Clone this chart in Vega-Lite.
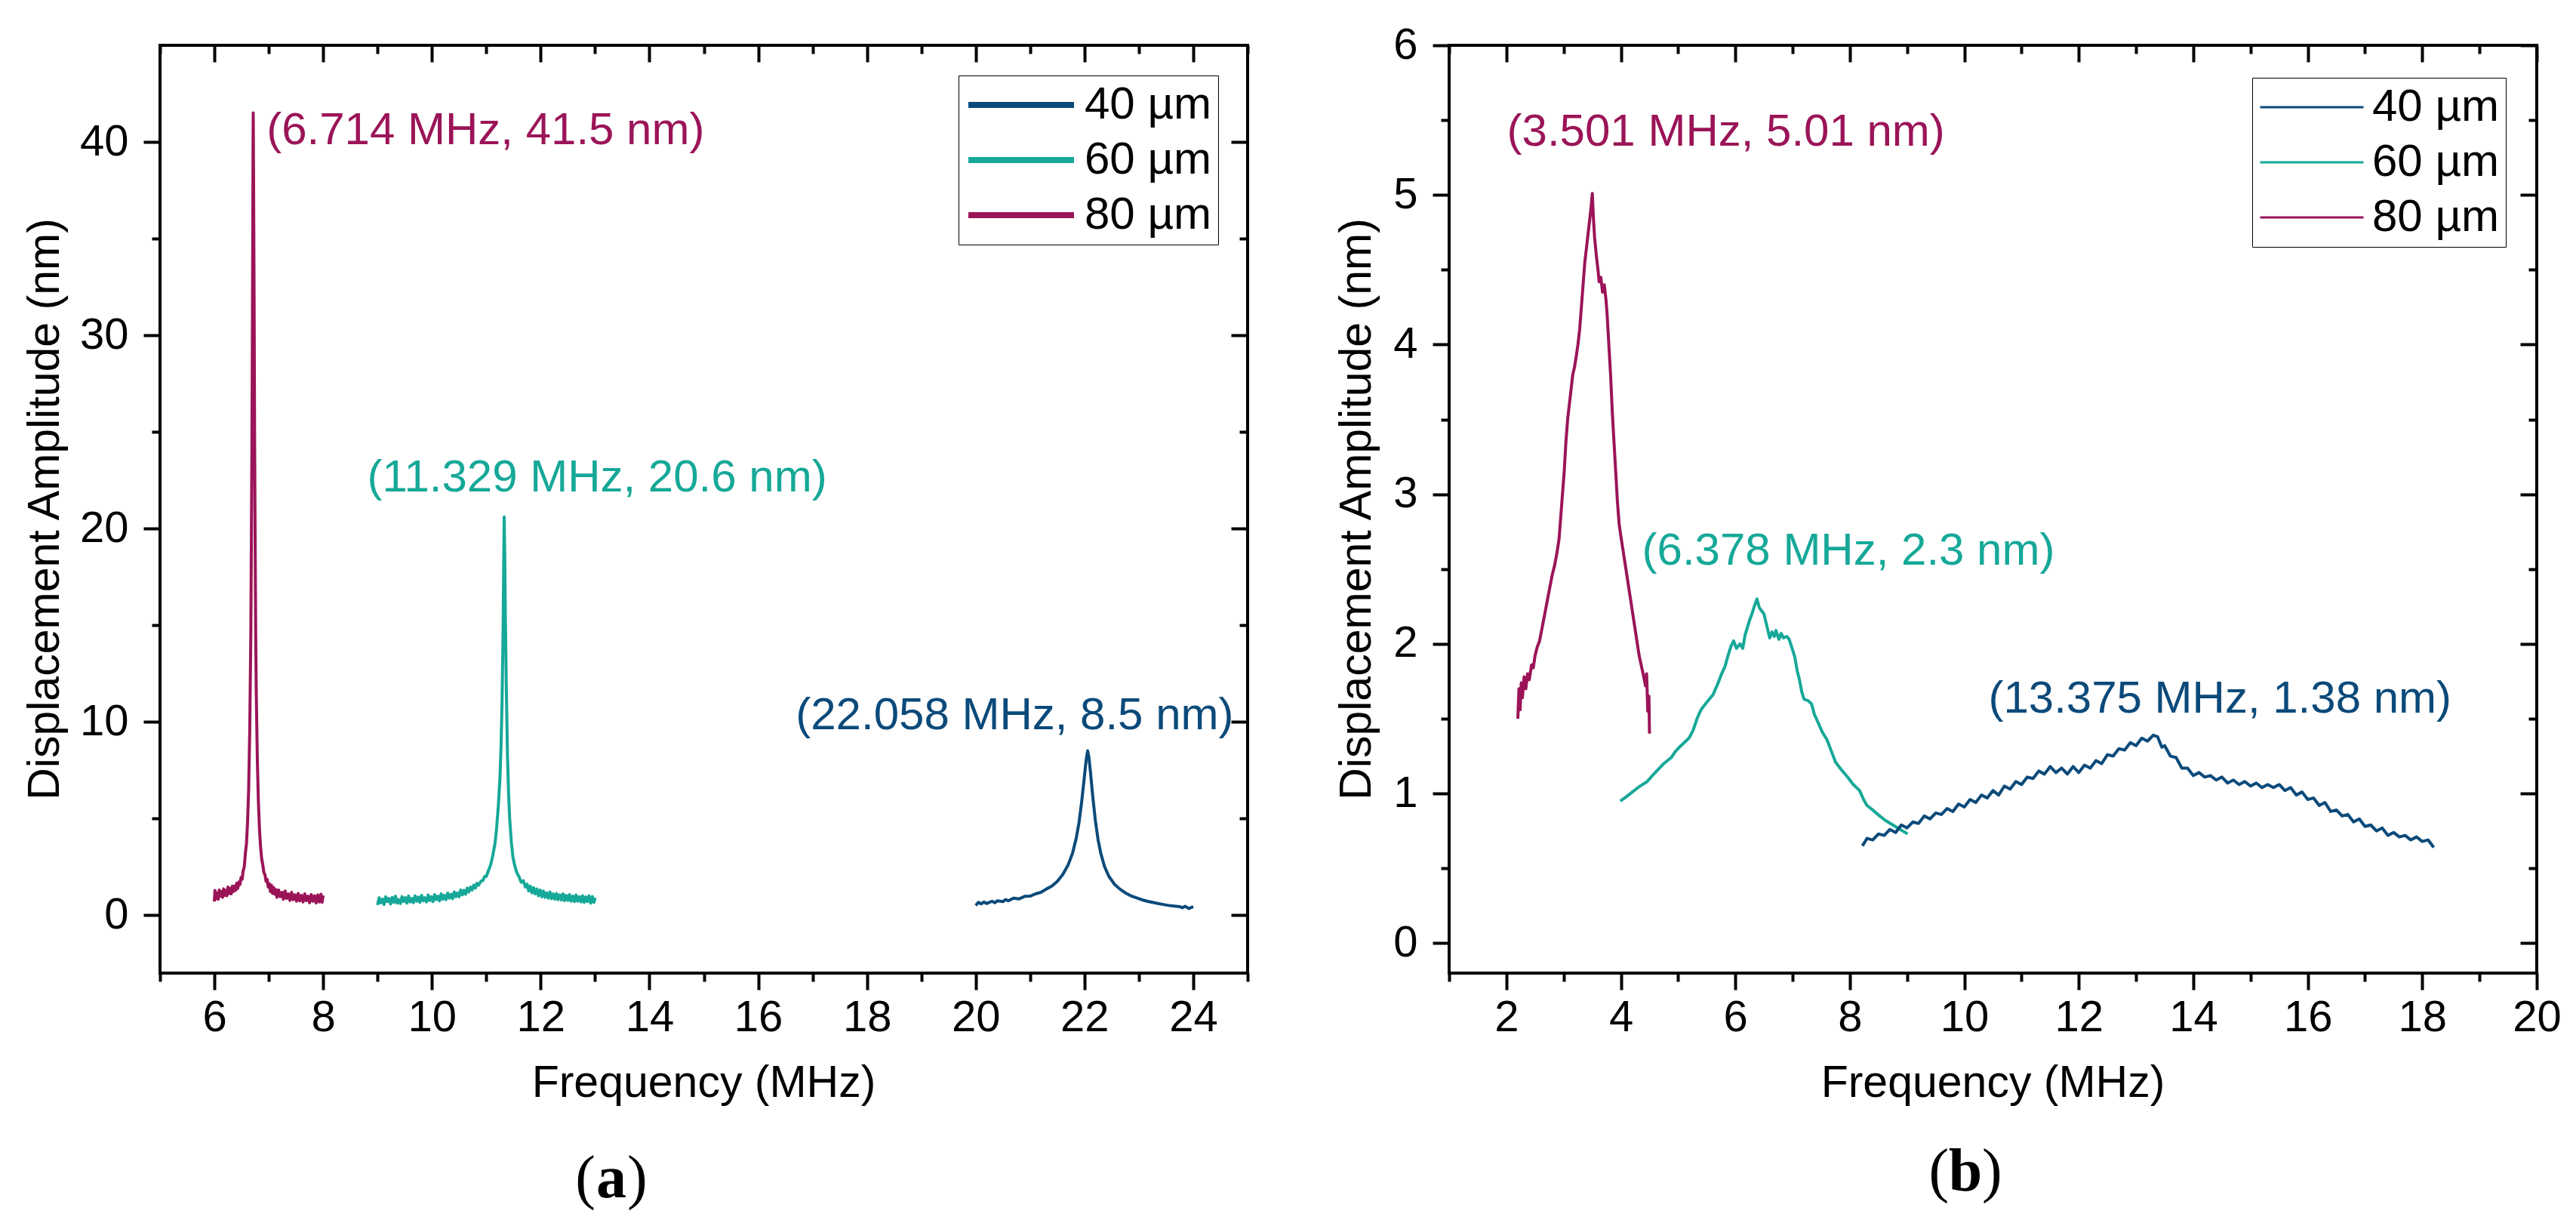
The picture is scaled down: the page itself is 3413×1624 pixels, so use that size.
{
  "$schema": "https://vega.github.io/schema/vega-lite/v6.json",
  "background": "white",
  "padding": {"left": 28, "top": 29, "right": 0, "bottom": 0},
  "config": {
    "view": {"stroke": "black", "strokeWidth": 4},
    "axis": {
      "domain": false, "grid": false,
      "tickColor": "black", "tickWidth": 4,
      "labelFont": "Liberation Sans", "labelFontSize": 58, "labelColor": "black",
      "labelFlush": false, "labelOverlap": false,
      "titleFont": "Liberation Sans", "titleFontSize": 59, "titleFontWeight": "normal", "titleColor": "black"
    },
    "legend": {
      "labelFont": "Liberation Sans", "labelFontSize": 60, "labelColor": "black", "labelLimit": 400,
      "strokeColor": "black", "fillColor": "white", "symbolType": "stroke"
    }
  },
  "datasets": {
    "pa": [
      {"s":"80 µm","f":6.00,"a":0.7},{"s":"80 µm","f":6.01,"a":1.28},{"s":"80 µm","f":6.03,"a":0.85},{"s":"80 µm","f":6.05,"a":1.15},
      {"s":"80 µm","f":6.07,"a":0.82},{"s":"80 µm","f":6.09,"a":1.3},{"s":"80 µm","f":6.11,"a":0.98},{"s":"80 µm","f":6.13,"a":1.22},
      {"s":"80 µm","f":6.15,"a":0.92},{"s":"80 µm","f":6.17,"a":1.36},{"s":"80 µm","f":6.19,"a":1.02},{"s":"80 µm","f":6.21,"a":1.28},
      {"s":"80 µm","f":6.23,"a":1.0},{"s":"80 µm","f":6.25,"a":1.45},{"s":"80 µm","f":6.27,"a":1.12},{"s":"80 µm","f":6.29,"a":1.38},
      {"s":"80 µm","f":6.31,"a":1.1},{"s":"80 µm","f":6.33,"a":1.5},{"s":"80 µm","f":6.35,"a":1.22},{"s":"80 µm","f":6.37,"a":1.5},
      {"s":"80 µm","f":6.39,"a":1.28},{"s":"80 µm","f":6.41,"a":1.65},{"s":"80 µm","f":6.43,"a":1.38},{"s":"80 µm","f":6.45,"a":1.72},
      {"s":"80 µm","f":6.47,"a":1.58},{"s":"80 µm","f":6.49,"a":1.95},{"s":"80 µm","f":6.51,"a":1.85},{"s":"80 µm","f":6.53,"a":2.3},
      {"s":"80 µm","f":6.55,"a":2.5},{"s":"80 µm","f":6.57,"a":3.2},{"s":"80 µm","f":6.59,"a":3.7},{"s":"80 µm","f":6.61,"a":4.8},
      {"s":"80 µm","f":6.63,"a":6.5},{"s":"80 µm","f":6.65,"a":9.5},{"s":"80 µm","f":6.67,"a":14.5},{"s":"80 µm","f":6.69,"a":24.0},
      {"s":"80 µm","f":6.70,"a":31.0},{"s":"80 µm","f":6.71,"a":39.0},{"s":"80 µm","f":6.714,"a":41.5},{"s":"80 µm","f":6.72,"a":38.5},
      {"s":"80 µm","f":6.73,"a":32.0},{"s":"80 µm","f":6.74,"a":24.5},{"s":"80 µm","f":6.75,"a":19.0},{"s":"80 µm","f":6.76,"a":14.5},
      {"s":"80 µm","f":6.77,"a":11.5},{"s":"80 µm","f":6.79,"a":8.0},{"s":"80 µm","f":6.81,"a":5.8},{"s":"80 µm","f":6.83,"a":4.4},
      {"s":"80 µm","f":6.85,"a":3.5},{"s":"80 µm","f":6.87,"a":2.9},{"s":"80 µm","f":6.89,"a":2.6},{"s":"80 µm","f":6.91,"a":2.2},
      {"s":"80 µm","f":6.93,"a":2.1},{"s":"80 µm","f":6.95,"a":1.75},{"s":"80 µm","f":6.97,"a":1.85},{"s":"80 µm","f":6.99,"a":1.45},
      {"s":"80 µm","f":7.01,"a":1.62},{"s":"80 µm","f":7.03,"a":1.22},{"s":"80 µm","f":7.05,"a":1.55},{"s":"80 µm","f":7.07,"a":1.12},
      {"s":"80 µm","f":7.09,"a":1.42},{"s":"80 µm","f":7.11,"a":1.08},{"s":"80 µm","f":7.13,"a":1.32},{"s":"80 µm","f":7.15,"a":0.92},
      {"s":"80 µm","f":7.18,"a":1.3},{"s":"80 µm","f":7.21,"a":0.95},{"s":"80 µm","f":7.24,"a":1.18},{"s":"80 µm","f":7.27,"a":0.82},
      {"s":"80 µm","f":7.30,"a":1.25},{"s":"80 µm","f":7.33,"a":0.86},{"s":"80 µm","f":7.36,"a":1.1},{"s":"80 µm","f":7.39,"a":0.76},
      {"s":"80 µm","f":7.42,"a":1.18},{"s":"80 µm","f":7.45,"a":0.8},{"s":"80 µm","f":7.48,"a":1.05},{"s":"80 µm","f":7.51,"a":0.72},
      {"s":"80 µm","f":7.54,"a":1.12},{"s":"80 µm","f":7.57,"a":0.74},{"s":"80 µm","f":7.60,"a":1.02},{"s":"80 µm","f":7.63,"a":0.68},
      {"s":"80 µm","f":7.66,"a":1.1},{"s":"80 µm","f":7.69,"a":0.75},{"s":"80 µm","f":7.72,"a":0.98},{"s":"80 µm","f":7.75,"a":0.64},
      {"s":"80 µm","f":7.78,"a":1.06},{"s":"80 µm","f":7.81,"a":0.72},{"s":"80 µm","f":7.84,"a":1.0},{"s":"80 µm","f":7.87,"a":0.63},
      {"s":"80 µm","f":7.90,"a":1.04},{"s":"80 µm","f":7.93,"a":0.68},{"s":"80 µm","f":7.96,"a":1.08},{"s":"80 µm","f":7.98,"a":0.66},
      {"s":"80 µm","f":8.00,"a":1.02},

      {"s":"60 µm","f":9.00,"a":0.52},{"s":"60 µm","f":9.03,"a":0.9},{"s":"60 µm","f":9.06,"a":0.63},{"s":"60 µm","f":9.09,"a":0.82},
      {"s":"60 µm","f":9.12,"a":0.55},{"s":"60 µm","f":9.15,"a":0.95},{"s":"60 µm","f":9.18,"a":0.7},{"s":"60 µm","f":9.21,"a":0.86},
      {"s":"60 µm","f":9.24,"a":0.58},{"s":"60 µm","f":9.27,"a":0.92},{"s":"60 µm","f":9.30,"a":0.66},{"s":"60 µm","f":9.33,"a":0.98},
      {"s":"60 µm","f":9.36,"a":0.62},{"s":"60 µm","f":9.39,"a":0.8},{"s":"60 µm","f":9.42,"a":0.6},{"s":"60 µm","f":9.45,"a":0.96},
      {"s":"60 µm","f":9.48,"a":0.7},{"s":"60 µm","f":9.51,"a":0.9},{"s":"60 µm","f":9.54,"a":0.62},{"s":"60 µm","f":9.57,"a":0.99},
      {"s":"60 µm","f":9.60,"a":0.68},{"s":"60 µm","f":9.63,"a":0.86},{"s":"60 µm","f":9.66,"a":0.64},{"s":"60 µm","f":9.69,"a":1.0},
      {"s":"60 µm","f":9.72,"a":0.72},{"s":"60 µm","f":9.75,"a":0.93},{"s":"60 µm","f":9.78,"a":0.66},{"s":"60 µm","f":9.81,"a":1.02},
      {"s":"60 µm","f":9.84,"a":0.74},{"s":"60 µm","f":9.87,"a":0.9},{"s":"60 µm","f":9.90,"a":0.68},{"s":"60 µm","f":9.93,"a":1.04},
      {"s":"60 µm","f":9.96,"a":0.75},{"s":"60 µm","f":9.99,"a":0.95},{"s":"60 µm","f":10.02,"a":0.7},{"s":"60 µm","f":10.05,"a":1.06},
      {"s":"60 µm","f":10.08,"a":0.8},{"s":"60 µm","f":10.11,"a":0.98},{"s":"60 µm","f":10.14,"a":0.74},{"s":"60 µm","f":10.17,"a":1.1},
      {"s":"60 µm","f":10.20,"a":0.82},{"s":"60 µm","f":10.23,"a":1.02},{"s":"60 µm","f":10.26,"a":0.8},{"s":"60 µm","f":10.29,"a":1.14},
      {"s":"60 µm","f":10.32,"a":0.88},{"s":"60 µm","f":10.35,"a":1.08},{"s":"60 µm","f":10.38,"a":0.85},{"s":"60 µm","f":10.41,"a":1.2},
      {"s":"60 µm","f":10.44,"a":0.95},{"s":"60 µm","f":10.47,"a":1.15},{"s":"60 µm","f":10.50,"a":0.95},{"s":"60 µm","f":10.53,"a":1.3},
      {"s":"60 µm","f":10.56,"a":1.05},{"s":"60 µm","f":10.59,"a":1.28},{"s":"60 µm","f":10.62,"a":1.08},{"s":"60 µm","f":10.65,"a":1.4},
      {"s":"60 µm","f":10.68,"a":1.2},{"s":"60 µm","f":10.71,"a":1.45},{"s":"60 µm","f":10.74,"a":1.3},{"s":"60 µm","f":10.77,"a":1.55},
      {"s":"60 µm","f":10.80,"a":1.4},{"s":"60 µm","f":10.83,"a":1.65},{"s":"60 µm","f":10.86,"a":1.55},{"s":"60 µm","f":10.90,"a":1.75},
      {"s":"60 µm","f":10.94,"a":1.8},{"s":"60 µm","f":10.97,"a":2.0},{"s":"60 µm","f":11.00,"a":2.0},
      {"s":"60 µm","f":11.04,"a":2.3},{"s":"60 µm","f":11.08,"a":2.6},{"s":"60 µm","f":11.12,"a":3.1},
      {"s":"60 µm","f":11.16,"a":3.7},{"s":"60 µm","f":11.19,"a":4.5},{"s":"60 µm","f":11.22,"a":5.6},{"s":"60 µm","f":11.25,"a":7.0},
      {"s":"60 µm","f":11.27,"a":8.6},{"s":"60 µm","f":11.29,"a":11.0},{"s":"60 µm","f":11.31,"a":15.0},{"s":"60 µm","f":11.32,"a":18.0},
      {"s":"60 µm","f":11.329,"a":20.6},{"s":"60 µm","f":11.34,"a":18.5},{"s":"60 µm","f":11.35,"a":15.5},{"s":"60 µm","f":11.37,"a":11.5},
      {"s":"60 µm","f":11.39,"a":8.2},{"s":"60 µm","f":11.41,"a":6.3},{"s":"60 µm","f":11.43,"a":5.0},{"s":"60 µm","f":11.46,"a":3.8},
      {"s":"60 µm","f":11.49,"a":3.0},{"s":"60 µm","f":11.52,"a":2.6},{"s":"60 µm","f":11.56,"a":2.2},{"s":"60 µm","f":11.60,"a":2.0},
      {"s":"60 µm","f":11.64,"a":1.7},{"s":"60 µm","f":11.68,"a":1.78},{"s":"60 µm","f":11.72,"a":1.45},{"s":"60 µm","f":11.75,"a":1.6},
      {"s":"60 µm","f":11.78,"a":1.25},{"s":"60 µm","f":11.81,"a":1.5},{"s":"60 µm","f":11.84,"a":1.15},{"s":"60 µm","f":11.87,"a":1.42},
      {"s":"60 µm","f":11.90,"a":1.1},{"s":"60 µm","f":11.93,"a":1.35},{"s":"60 µm","f":11.96,"a":1.0},{"s":"60 µm","f":11.99,"a":1.3},
      {"s":"60 µm","f":12.02,"a":0.95},{"s":"60 µm","f":12.05,"a":1.25},{"s":"60 µm","f":12.08,"a":0.92},{"s":"60 µm","f":12.11,"a":1.15},
      {"s":"60 µm","f":12.14,"a":0.88},{"s":"60 µm","f":12.17,"a":1.2},{"s":"60 µm","f":12.20,"a":0.85},{"s":"60 µm","f":12.23,"a":1.1},
      {"s":"60 µm","f":12.26,"a":0.82},{"s":"60 µm","f":12.29,"a":1.12},{"s":"60 µm","f":12.32,"a":0.8},{"s":"60 µm","f":12.35,"a":1.05},
      {"s":"60 µm","f":12.38,"a":0.78},{"s":"60 µm","f":12.41,"a":1.1},{"s":"60 µm","f":12.44,"a":0.75},{"s":"60 µm","f":12.47,"a":1.02},
      {"s":"60 µm","f":12.50,"a":0.76},{"s":"60 µm","f":12.53,"a":1.06},{"s":"60 µm","f":12.56,"a":0.72},{"s":"60 µm","f":12.59,"a":0.98},
      {"s":"60 µm","f":12.62,"a":0.7},{"s":"60 µm","f":12.65,"a":1.04},{"s":"60 µm","f":12.68,"a":0.72},{"s":"60 µm","f":12.71,"a":0.95},
      {"s":"60 µm","f":12.74,"a":0.68},{"s":"60 µm","f":12.77,"a":1.0},{"s":"60 µm","f":12.80,"a":0.66},{"s":"60 µm","f":12.83,"a":0.94},
      {"s":"60 µm","f":12.86,"a":0.7},{"s":"60 µm","f":12.89,"a":1.0},{"s":"60 µm","f":12.92,"a":0.62},{"s":"60 µm","f":12.95,"a":0.96},
      {"s":"60 µm","f":12.98,"a":0.66},{"s":"60 µm","f":13.00,"a":0.9},

      {"s":"40 µm","f":20.00,"a":0.5},{"s":"40 µm","f":20.05,"a":0.66},{"s":"40 µm","f":20.1,"a":0.58},{"s":"40 µm","f":20.15,"a":0.68},
      {"s":"40 µm","f":20.2,"a":0.6},{"s":"40 µm","f":20.3,"a":0.72},{"s":"40 µm","f":20.35,"a":0.64},
      {"s":"40 µm","f":20.4,"a":0.74},{"s":"40 µm","f":20.5,"a":0.7},{"s":"40 µm","f":20.55,"a":0.8},{"s":"40 µm","f":20.6,"a":0.74},{"s":"40 µm","f":20.7,"a":0.88},
      {"s":"40 µm","f":20.8,"a":0.84},{"s":"40 µm","f":20.9,"a":0.97},{"s":"40 µm","f":21.0,"a":0.98},{"s":"40 µm","f":21.1,"a":1.1},
      {"s":"40 µm","f":21.2,"a":1.18},{"s":"40 µm","f":21.3,"a":1.35},{"s":"40 µm","f":21.4,"a":1.5},{"s":"40 µm","f":21.5,"a":1.75},
      {"s":"40 µm","f":21.6,"a":2.1},{"s":"40 µm","f":21.7,"a":2.6},{"s":"40 µm","f":21.78,"a":3.2},{"s":"40 µm","f":21.85,"a":4.0},
      {"s":"40 µm","f":21.9,"a":4.8},{"s":"40 µm","f":21.95,"a":5.9},{"s":"40 µm","f":22.0,"a":7.2},{"s":"40 µm","f":22.03,"a":8.0},
      {"s":"40 µm","f":22.058,"a":8.5},{"s":"40 µm","f":22.08,"a":8.2},{"s":"40 µm","f":22.11,"a":7.4},{"s":"40 µm","f":22.15,"a":6.2},
      {"s":"40 µm","f":22.2,"a":4.9},{"s":"40 µm","f":22.25,"a":3.9},{"s":"40 µm","f":22.3,"a":3.2},{"s":"40 µm","f":22.37,"a":2.5},
      {"s":"40 µm","f":22.45,"a":2.0},{"s":"40 µm","f":22.55,"a":1.6},{"s":"40 µm","f":22.65,"a":1.35},{"s":"40 µm","f":22.75,"a":1.15},
      {"s":"40 µm","f":22.85,"a":1.0},{"s":"40 µm","f":22.95,"a":0.9},{"s":"40 µm","f":23.05,"a":0.8},{"s":"40 µm","f":23.15,"a":0.72},
      {"s":"40 µm","f":23.25,"a":0.66},{"s":"40 µm","f":23.35,"a":0.6},{"s":"40 µm","f":23.45,"a":0.55},{"s":"40 µm","f":23.55,"a":0.5},
      {"s":"40 µm","f":23.65,"a":0.47},{"s":"40 µm","f":23.75,"a":0.44},{"s":"40 µm","f":23.8,"a":0.38},{"s":"40 µm","f":23.85,"a":0.46},{"s":"40 µm","f":23.92,"a":0.34},
      {"s":"40 µm","f":24.0,"a":0.44}
    ],
    "pb": [
      {"s":"80 µm","f":2.20,"a":1.5},{"s":"80 µm","f":2.22,"a":1.7},{"s":"80 µm","f":2.24,"a":1.56},{"s":"80 µm","f":2.26,"a":1.74},
      {"s":"80 µm","f":2.28,"a":1.64},{"s":"80 µm","f":2.31,"a":1.78},{"s":"80 µm","f":2.34,"a":1.7},{"s":"80 µm","f":2.37,"a":1.8},
      {"s":"80 µm","f":2.40,"a":1.76},{"s":"80 µm","f":2.44,"a":1.86},{"s":"80 µm","f":2.47,"a":1.84},{"s":"80 µm","f":2.50,"a":1.92},
      {"s":"80 µm","f":2.54,"a":1.98},{"s":"80 µm","f":2.58,"a":2.02},{"s":"80 µm","f":2.63,"a":2.12},{"s":"80 µm","f":2.67,"a":2.2},
      {"s":"80 µm","f":2.72,"a":2.3},{"s":"80 µm","f":2.76,"a":2.38},{"s":"80 µm","f":2.80,"a":2.46},{"s":"80 µm","f":2.84,"a":2.52},
      {"s":"80 µm","f":2.88,"a":2.6},{"s":"80 µm","f":2.92,"a":2.7},{"s":"80 µm","f":2.95,"a":2.85},{"s":"80 µm","f":2.98,"a":3.0},
      {"s":"80 µm","f":3.01,"a":3.15},{"s":"80 µm","f":3.04,"a":3.35},{"s":"80 µm","f":3.07,"a":3.5},{"s":"80 µm","f":3.10,"a":3.6},
      {"s":"80 µm","f":3.13,"a":3.7},{"s":"80 µm","f":3.16,"a":3.8},{"s":"80 µm","f":3.19,"a":3.85},{"s":"80 µm","f":3.22,"a":3.92},
      {"s":"80 µm","f":3.25,"a":4.0},{"s":"80 µm","f":3.28,"a":4.1},{"s":"80 µm","f":3.31,"a":4.25},{"s":"80 µm","f":3.34,"a":4.4},
      {"s":"80 µm","f":3.37,"a":4.55},{"s":"80 µm","f":3.40,"a":4.65},{"s":"80 µm","f":3.43,"a":4.75},{"s":"80 µm","f":3.46,"a":4.85},
      {"s":"80 µm","f":3.48,"a":4.92},{"s":"80 µm","f":3.501,"a":5.01},{"s":"80 µm","f":3.52,"a":4.85},{"s":"80 µm","f":3.54,"a":4.72},
      {"s":"80 µm","f":3.57,"a":4.6},{"s":"80 µm","f":3.60,"a":4.5},{"s":"80 µm","f":3.62,"a":4.42},{"s":"80 µm","f":3.65,"a":4.45},
      {"s":"80 µm","f":3.68,"a":4.35},{"s":"80 µm","f":3.71,"a":4.4},{"s":"80 µm","f":3.74,"a":4.3},{"s":"80 µm","f":3.76,"a":4.2},
      {"s":"80 µm","f":3.79,"a":4.0},{"s":"80 µm","f":3.82,"a":3.8},{"s":"80 µm","f":3.85,"a":3.55},{"s":"80 µm","f":3.88,"a":3.35},
      {"s":"80 µm","f":3.91,"a":3.15},{"s":"80 µm","f":3.94,"a":2.95},{"s":"80 µm","f":3.97,"a":2.8},{"s":"80 µm","f":4.00,"a":2.72},
      {"s":"80 µm","f":4.04,"a":2.62},{"s":"80 µm","f":4.08,"a":2.52},{"s":"80 µm","f":4.12,"a":2.42},{"s":"80 µm","f":4.16,"a":2.32},
      {"s":"80 µm","f":4.20,"a":2.22},{"s":"80 µm","f":4.24,"a":2.12},{"s":"80 µm","f":4.28,"a":2.02},{"s":"80 µm","f":4.32,"a":1.92},
      {"s":"80 µm","f":4.36,"a":1.85},{"s":"80 µm","f":4.40,"a":1.78},{"s":"80 µm","f":4.43,"a":1.72},{"s":"80 µm","f":4.45,"a":1.8},
      {"s":"80 µm","f":4.47,"a":1.55},{"s":"80 µm","f":4.49,"a":1.65},{"s":"80 µm","f":4.50,"a":1.4},

      {"s":"60 µm","f":3.99,"a":0.95},{"s":"60 µm","f":4.1,"a":0.98},{"s":"60 µm","f":4.2,"a":1.01},{"s":"60 µm","f":4.3,"a":1.04},
      {"s":"60 µm","f":4.46,"a":1.08},{"s":"60 µm","f":4.55,"a":1.12},{"s":"60 µm","f":4.65,"a":1.16},{"s":"60 µm","f":4.75,"a":1.2},
      {"s":"60 µm","f":4.88,"a":1.24},{"s":"60 µm","f":4.95,"a":1.28},{"s":"60 µm","f":5.05,"a":1.32},{"s":"60 µm","f":5.19,"a":1.37},
      {"s":"60 µm","f":5.26,"a":1.42},{"s":"60 µm","f":5.33,"a":1.5},{"s":"60 µm","f":5.40,"a":1.56},{"s":"60 µm","f":5.5,"a":1.61},
      {"s":"60 µm","f":5.61,"a":1.66},{"s":"60 µm","f":5.7,"a":1.74},{"s":"60 µm","f":5.76,"a":1.8},{"s":"60 µm","f":5.82,"a":1.85},
      {"s":"60 µm","f":5.87,"a":1.92},{"s":"60 µm","f":5.92,"a":1.98},{"s":"60 µm","f":5.97,"a":2.02},{"s":"60 µm","f":6.02,"a":1.97},
      {"s":"60 µm","f":6.08,"a":2.0},{"s":"60 µm","f":6.13,"a":1.97},{"s":"60 µm","f":6.17,"a":2.06},{"s":"60 µm","f":6.21,"a":2.11},
      {"s":"60 µm","f":6.25,"a":2.16},{"s":"60 µm","f":6.29,"a":2.2},{"s":"60 µm","f":6.33,"a":2.25},{"s":"60 µm","f":6.378,"a":2.3},
      {"s":"60 µm","f":6.42,"a":2.24},{"s":"60 µm","f":6.46,"a":2.22},{"s":"60 µm","f":6.50,"a":2.2},{"s":"60 µm","f":6.55,"a":2.12},
      {"s":"60 µm","f":6.60,"a":2.04},{"s":"60 µm","f":6.64,"a":2.08},{"s":"60 µm","f":6.68,"a":2.05},{"s":"60 µm","f":6.71,"a":2.09},
      {"s":"60 µm","f":6.76,"a":2.03},{"s":"60 µm","f":6.80,"a":2.07},{"s":"60 µm","f":6.84,"a":2.04},{"s":"60 µm","f":6.90,"a":2.05},
      {"s":"60 µm","f":6.94,"a":2.03},{"s":"60 µm","f":7.0,"a":1.96},{"s":"60 µm","f":7.04,"a":1.91},{"s":"60 µm","f":7.08,"a":1.82},
      {"s":"60 µm","f":7.12,"a":1.76},{"s":"60 µm","f":7.16,"a":1.68},{"s":"60 µm","f":7.20,"a":1.63},{"s":"60 µm","f":7.27,"a":1.62},
      {"s":"60 µm","f":7.33,"a":1.6},{"s":"60 µm","f":7.38,"a":1.53},{"s":"60 µm","f":7.45,"a":1.47},{"s":"60 µm","f":7.52,"a":1.41},
      {"s":"60 µm","f":7.60,"a":1.36},{"s":"60 µm","f":7.68,"a":1.28},{"s":"60 µm","f":7.75,"a":1.21},{"s":"60 µm","f":7.85,"a":1.16},
      {"s":"60 µm","f":7.96,"a":1.11},{"s":"60 µm","f":8.06,"a":1.06},{"s":"60 µm","f":8.17,"a":1.02},{"s":"60 µm","f":8.24,"a":0.96},
      {"s":"60 µm","f":8.30,"a":0.92},{"s":"60 µm","f":8.40,"a":0.89},{"s":"60 µm","f":8.49,"a":0.86},{"s":"60 µm","f":8.62,"a":0.82},
      {"s":"60 µm","f":8.75,"a":0.79},{"s":"60 µm","f":8.88,"a":0.76},{"s":"60 µm","f":9.01,"a":0.73},

      {"s":"40 µm","f":8.22,"a":0.65},{"s":"40 µm","f":8.3,"a":0.7},{"s":"40 µm","f":8.4,"a":0.69},{"s":"40 µm","f":8.5,"a":0.73},
      {"s":"40 µm","f":8.6,"a":0.72},{"s":"40 µm","f":8.7,"a":0.76},{"s":"40 µm","f":8.8,"a":0.74},{"s":"40 µm","f":8.9,"a":0.79},
      {"s":"40 µm","f":9.0,"a":0.77},{"s":"40 µm","f":9.1,"a":0.81},{"s":"40 µm","f":9.2,"a":0.8},{"s":"40 µm","f":9.3,"a":0.85},
      {"s":"40 µm","f":9.4,"a":0.83},{"s":"40 µm","f":9.5,"a":0.87},{"s":"40 µm","f":9.6,"a":0.86},{"s":"40 µm","f":9.7,"a":0.9},
      {"s":"40 µm","f":9.8,"a":0.88},{"s":"40 µm","f":9.9,"a":0.93},{"s":"40 µm","f":10.0,"a":0.91},{"s":"40 µm","f":10.1,"a":0.96},
      {"s":"40 µm","f":10.2,"a":0.94},{"s":"40 µm","f":10.3,"a":0.99},{"s":"40 µm","f":10.4,"a":0.97},{"s":"40 µm","f":10.5,"a":1.02},
      {"s":"40 µm","f":10.6,"a":0.99},{"s":"40 µm","f":10.7,"a":1.05},{"s":"40 µm","f":10.8,"a":1.03},{"s":"40 µm","f":10.9,"a":1.08},
      {"s":"40 µm","f":11.0,"a":1.06},{"s":"40 µm","f":11.1,"a":1.11},{"s":"40 µm","f":11.2,"a":1.1},{"s":"40 µm","f":11.3,"a":1.15},
      {"s":"40 µm","f":11.4,"a":1.13},{"s":"40 µm","f":11.5,"a":1.18},{"s":"40 µm","f":11.6,"a":1.14},{"s":"40 µm","f":11.7,"a":1.17},
      {"s":"40 µm","f":11.8,"a":1.13},{"s":"40 µm","f":11.9,"a":1.18},{"s":"40 µm","f":12.0,"a":1.14},{"s":"40 µm","f":12.1,"a":1.19},
      {"s":"40 µm","f":12.2,"a":1.17},{"s":"40 µm","f":12.3,"a":1.22},{"s":"40 µm","f":12.4,"a":1.2},{"s":"40 µm","f":12.5,"a":1.26},
      {"s":"40 µm","f":12.6,"a":1.25},{"s":"40 µm","f":12.7,"a":1.3},{"s":"40 µm","f":12.8,"a":1.29},{"s":"40 µm","f":12.9,"a":1.34},
      {"s":"40 µm","f":13.0,"a":1.32},{"s":"40 µm","f":13.1,"a":1.37},{"s":"40 µm","f":13.2,"a":1.35},{"s":"40 µm","f":13.3,"a":1.39},
      {"s":"40 µm","f":13.375,"a":1.38},{"s":"40 µm","f":13.45,"a":1.31},{"s":"40 µm","f":13.5,"a":1.32},{"s":"40 µm","f":13.6,"a":1.25},
      {"s":"40 µm","f":13.7,"a":1.24},{"s":"40 µm","f":13.8,"a":1.17},{"s":"40 µm","f":13.9,"a":1.17},{"s":"40 µm","f":14.0,"a":1.12},
      {"s":"40 µm","f":14.1,"a":1.14},{"s":"40 µm","f":14.2,"a":1.11},{"s":"40 µm","f":14.3,"a":1.12},{"s":"40 µm","f":14.4,"a":1.09},
      {"s":"40 µm","f":14.5,"a":1.11},{"s":"40 µm","f":14.6,"a":1.07},{"s":"40 µm","f":14.7,"a":1.09},{"s":"40 µm","f":14.8,"a":1.06},
      {"s":"40 µm","f":14.9,"a":1.08},{"s":"40 µm","f":15.0,"a":1.05},{"s":"40 µm","f":15.1,"a":1.07},{"s":"40 µm","f":15.2,"a":1.04},
      {"s":"40 µm","f":15.3,"a":1.06},{"s":"40 µm","f":15.4,"a":1.04},{"s":"40 µm","f":15.5,"a":1.06},{"s":"40 µm","f":15.6,"a":1.02},
      {"s":"40 µm","f":15.7,"a":1.04},{"s":"40 µm","f":15.8,"a":0.99},{"s":"40 µm","f":15.9,"a":1.01},{"s":"40 µm","f":16.0,"a":0.96},
      {"s":"40 µm","f":16.1,"a":0.97},{"s":"40 µm","f":16.2,"a":0.92},{"s":"40 µm","f":16.3,"a":0.94},{"s":"40 µm","f":16.4,"a":0.88},
      {"s":"40 µm","f":16.5,"a":0.89},{"s":"40 µm","f":16.6,"a":0.85},{"s":"40 µm","f":16.7,"a":0.86},{"s":"40 µm","f":16.8,"a":0.81},
      {"s":"40 µm","f":16.9,"a":0.83},{"s":"40 µm","f":17.0,"a":0.78},{"s":"40 µm","f":17.1,"a":0.79},{"s":"40 µm","f":17.2,"a":0.75},
      {"s":"40 µm","f":17.3,"a":0.77},{"s":"40 µm","f":17.4,"a":0.72},{"s":"40 µm","f":17.5,"a":0.74},{"s":"40 µm","f":17.6,"a":0.71},
      {"s":"40 µm","f":17.7,"a":0.72},{"s":"40 µm","f":17.8,"a":0.69},{"s":"40 µm","f":17.9,"a":0.71},{"s":"40 µm","f":18.0,"a":0.68},
      {"s":"40 µm","f":18.1,"a":0.69},{"s":"40 µm","f":18.2,"a":0.64}
    ],
    "na": [
      {"f":6.96,"a":39.9,"t":"(6.714 MHz, 41.5 nm)","s":"80 µm"},
      {"f":8.81,"a":21.9,"t":"(11.329 MHz, 20.6 nm)","s":"60 µm"},
      {"f":16.69,"a":9.63,"t":"(22.058 MHz, 8.5 nm)","s":"40 µm"}
    ],
    "nb": [
      {"f":2.01,"a":5.33,"t":"(3.501 MHz, 5.01 nm)","s":"80 µm"},
      {"f":4.37,"a":2.53,"t":"(6.378 MHz, 2.3 nm)","s":"60 µm"},
      {"f":10.42,"a":1.54,"t":"(13.375 MHz, 1.38 nm)","s":"40 µm"}
    ],
    "la": [{"f":13.3,"a":-13.68}],
    "lb": [{"f":10.02,"a":-1.53}]
  },
  "bounds": "flush",
  "spacing": 267,
  "resolve": {"scale": {"color": "independent"}},
  "hconcat": [
    {
      "width": 1441,
      "height": 1229,
      "resolve": {"axis": {"x": "independent", "y": "independent"}, "scale": {"color": "independent"}},
      "layer": [
        {
          "data": {"name": "pa"},
          "mark": {"type": "line", "strokeWidth": 4, "strokeJoin": "round"},
          "encoding": {
            "x": {"field": "f", "type": "quantitative", "scale": {"domain": [5, 25], "nice": false, "zero": false},
                  "axis": {"orient": "bottom", "values": [6, 8, 10, 12, 14, 16, 18, 20, 22, 24], "tickSize": 22, "labelPadding": 8,
                           "title": "Frequency (MHz)", "titleX": 720, "titleY": 163, "titleBaseline": "alphabetic", "titleAlign": "center"}},
            "y": {"field": "a", "type": "quantitative", "scale": {"domain": [-3, 45], "nice": false, "zero": false},
                  "axis": {"orient": "left", "values": [0, 10, 20, 30, 40], "tickSize": 22, "labelPadding": 20,
                           "title": "Displacement Amplitude (nm)", "titleX": -135, "titleY": 614, "titleAngle": -90,
                           "titleBaseline": "alphabetic", "titleAlign": "center"}},
            "color": {"field": "s", "type": "nominal",
                      "scale": {"domain": ["40 µm", "60 µm", "80 µm"], "range": ["#0b4a7a", "#16a898", "#9b1458"]},
                      "legend": {"orient": "none", "legendX": 1058, "legendY": 40, "title": null, "symbolSize": 19600,
                                 "symbolStrokeWidth": 8, "clipHeight": 60, "rowPadding": 13, "padding": 9, "labelOffset": 10}}
          }
        },
        {
          "data": {"name": "na"},
          "mark": {"type": "text", "align": "left", "baseline": "alphabetic", "fontSize": 60, "font": "Liberation Sans"},
          "encoding": {
            "x": {"field": "f", "type": "quantitative", "scale": {"domain": [5, 25], "nice": false, "zero": false},
                  "axis": {"orient": "bottom", "values": [5, 7, 9, 11, 13, 15, 17, 19, 21, 23, 25], "tickSize": 11, "labels": false, "title": null}},
            "y": {"field": "a", "type": "quantitative", "scale": {"domain": [-3, 45], "nice": false, "zero": false},
                  "axis": {"orient": "left", "values": [5, 15, 25, 35], "tickSize": 11, "labels": false, "title": null}},
            "text": {"field": "t"},
            "color": {"field": "s", "type": "nominal",
                      "scale": {"domain": ["40 µm", "60 µm", "80 µm"], "range": ["#0b4a7a", "#16a898", "#9b1458"]}, "legend": null}
          }
        },
        {
          "data": {"name": "la"},
          "mark": {"type": "text", "text": "a", "font": "Liberation Serif", "fontWeight": "bold", "fontSize": 80, "baseline": "middle", "color": "black"},
          "encoding": {
            "x": {"field": "f", "type": "quantitative", "scale": {"domain": [5, 25], "nice": false, "zero": false},
                  "axis": {"orient": "top", "values": [6, 8, 10, 12, 14, 16, 18, 20, 22, 24], "tickSize": -22, "labels": false, "title": null}},
            "y": {"field": "a", "type": "quantitative", "scale": {"domain": [-3, 45], "nice": false, "zero": false},
                  "axis": {"orient": "right", "values": [0, 10, 20, 30, 40], "tickSize": -22, "labels": false, "title": null}}
          }
        },
        {
          "data": {"name": "la"},
          "mark": {"type": "text", "text": "(", "align": "right", "dx": -21, "font": "Liberation Serif", "fontSize": 80, "baseline": "middle", "color": "black"},
          "encoding": {
            "x": {"field": "f", "type": "quantitative", "scale": {"domain": [5, 25], "nice": false, "zero": false},
                  "axis": {"orient": "top", "values": [5, 7, 9, 11, 13, 15, 17, 19, 21, 23, 25], "tickSize": -11, "labels": false, "title": null}},
            "y": {"field": "a", "type": "quantitative", "scale": {"domain": [-3, 45], "nice": false, "zero": false},
                  "axis": {"orient": "right", "values": [5, 15, 25, 35], "tickSize": -11, "labels": false, "title": null}}
          }
        },
        {
          "data": {"name": "la"},
          "mark": {"type": "text", "text": ")", "align": "left", "dx": 21, "font": "Liberation Serif", "fontSize": 80, "baseline": "middle", "color": "black"},
          "encoding": {
            "x": {"field": "f", "type": "quantitative", "scale": {"domain": [5, 25], "nice": false, "zero": false}, "axis": null},
            "y": {"field": "a", "type": "quantitative", "scale": {"domain": [-3, 45], "nice": false, "zero": false}, "axis": null}
          }
        }
      ]
    },
    {
      "width": 1441,
      "height": 1229,
      "resolve": {"axis": {"x": "independent", "y": "independent"}, "scale": {"color": "independent"}},
      "layer": [
        {
          "data": {"name": "pb"},
          "mark": {"type": "line", "strokeWidth": 4, "strokeJoin": "round"},
          "encoding": {
            "x": {"field": "f", "type": "quantitative", "scale": {"domain": [1, 20], "nice": false, "zero": false},
                  "axis": {"orient": "bottom", "values": [2, 4, 6, 8, 10, 12, 14, 16, 18, 20], "tickSize": 22, "labelPadding": 8,
                           "title": "Frequency (MHz)", "titleX": 720, "titleY": 163, "titleBaseline": "alphabetic", "titleAlign": "center"}},
            "y": {"field": "a", "type": "quantitative", "scale": {"domain": [-0.2, 6], "nice": false, "zero": false},
                  "axis": {"orient": "left", "values": [0, 1, 2, 3, 4, 5, 6], "tickSize": 22, "labelPadding": 20,
                           "title": "Displacement Amplitude (nm)", "titleX": -105, "titleY": 614, "titleAngle": -90,
                           "titleBaseline": "alphabetic", "titleAlign": "center"}},
            "color": {"field": "s", "type": "nominal",
                      "scale": {"domain": ["40 µm", "60 µm", "80 µm"], "range": ["#0b4a7a", "#16a898", "#9b1458"]},
                      "legend": {"orient": "none", "legendX": 1064, "legendY": 43, "title": null, "symbolSize": 18769,
                                 "symbolStrokeWidth": 3, "clipHeight": 60, "rowPadding": 13, "padding": 9, "labelOffset": 10}}
          }
        },
        {
          "data": {"name": "nb"},
          "mark": {"type": "text", "align": "left", "baseline": "alphabetic", "fontSize": 60, "font": "Liberation Sans"},
          "encoding": {
            "x": {"field": "f", "type": "quantitative", "scale": {"domain": [1, 20], "nice": false, "zero": false},
                  "axis": {"orient": "bottom", "values": [1, 3, 5, 7, 9, 11, 13, 15, 17, 19], "tickSize": 11, "labels": false, "title": null}},
            "y": {"field": "a", "type": "quantitative", "scale": {"domain": [-0.2, 6], "nice": false, "zero": false},
                  "axis": {"orient": "left", "values": [0.5, 1.5, 2.5, 3.5, 4.5, 5.5], "tickSize": 11, "labels": false, "title": null}},
            "text": {"field": "t"},
            "color": {"field": "s", "type": "nominal",
                      "scale": {"domain": ["40 µm", "60 µm", "80 µm"], "range": ["#0b4a7a", "#16a898", "#9b1458"]}, "legend": null}
          }
        },
        {
          "data": {"name": "lb"},
          "mark": {"type": "text", "text": "b", "font": "Liberation Serif", "fontWeight": "bold", "fontSize": 80, "baseline": "middle", "color": "black"},
          "encoding": {
            "x": {"field": "f", "type": "quantitative", "scale": {"domain": [1, 20], "nice": false, "zero": false},
                  "axis": {"orient": "top", "values": [2, 4, 6, 8, 10, 12, 14, 16, 18, 20], "tickSize": -22, "labels": false, "title": null}},
            "y": {"field": "a", "type": "quantitative", "scale": {"domain": [-0.2, 6], "nice": false, "zero": false},
                  "axis": {"orient": "right", "values": [0, 1, 2, 3, 4, 5, 6], "tickSize": -22, "labels": false, "title": null}}
          }
        },
        {
          "data": {"name": "lb"},
          "mark": {"type": "text", "text": "(", "align": "right", "dx": -22, "font": "Liberation Serif", "fontSize": 80, "baseline": "middle", "color": "black"},
          "encoding": {
            "x": {"field": "f", "type": "quantitative", "scale": {"domain": [1, 20], "nice": false, "zero": false},
                  "axis": {"orient": "top", "values": [1, 3, 5, 7, 9, 11, 13, 15, 17, 19], "tickSize": -11, "labels": false, "title": null}},
            "y": {"field": "a", "type": "quantitative", "scale": {"domain": [-0.2, 6], "nice": false, "zero": false},
                  "axis": {"orient": "right", "values": [0.5, 1.5, 2.5, 3.5, 4.5, 5.5], "tickSize": -11, "labels": false, "title": null}}
          }
        },
        {
          "data": {"name": "lb"},
          "mark": {"type": "text", "text": ")", "align": "left", "dx": 22, "font": "Liberation Serif", "fontSize": 80, "baseline": "middle", "color": "black"},
          "encoding": {
            "x": {"field": "f", "type": "quantitative", "scale": {"domain": [1, 20], "nice": false, "zero": false}, "axis": null},
            "y": {"field": "a", "type": "quantitative", "scale": {"domain": [-0.2, 6], "nice": false, "zero": false}, "axis": null}
          }
        }
      ]
    }
  ]
}
